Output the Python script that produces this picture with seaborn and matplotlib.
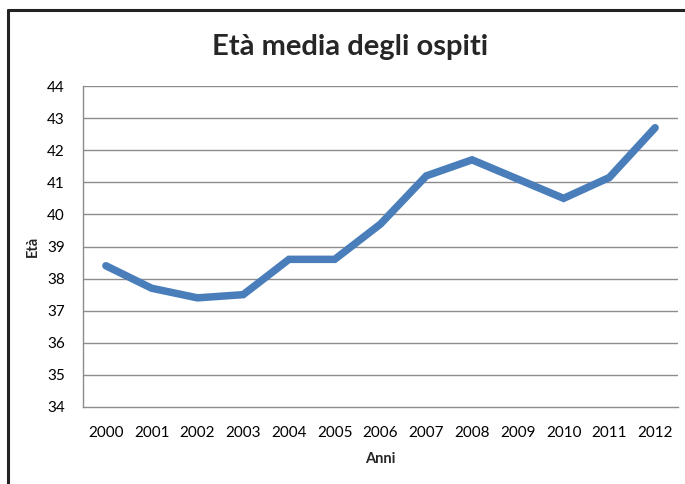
import numpy as np
import pandas as pd
import matplotlib
matplotlib.use("Agg")
import matplotlib.pyplot as plt
import seaborn as sns
from matplotlib.lines import Line2D

years = ["2000", "2001", "2002", "2003", "2004", "2005", "2006",
         "2007", "2008", "2009", "2010", "2011", "2012"]
ages = [38.4, 37.7, 37.4, 37.5, 38.6, 38.6, 39.7, 41.2, 41.7, 41.1, 40.5, 41.15, 42.7]
y_ticks = [34, 35, 36, 37, 38, 39, 40, 41, 42, 43, 44]

title = "Età media degli ospiti"
xlabel = "Anni"
ylabel = "Età"

sns.set_style("white")
plt.rcParams["font.family"] = ["Lato", "DejaVu Sans"]

df = pd.DataFrame({"pos": np.arange(len(years)), "age": ages})

fig = plt.figure(figsize=(6.85, 4.84), dpi=100)
ax = fig.add_axes([83/685, 1-407/484, (678-83)/685, (407-86)/484])

for v in y_ticks[1:]:
    ax.axhline(v, color="#8c8c8c", lw=1.0, zorder=1)

sns.lineplot(data=df, x="pos", y="age", ax=ax, color="#4A7EBB", lw=5.4,
             solid_capstyle="round", solid_joinstyle="miter", zorder=3)

ax.set_xlim(-0.5, len(years) - 0.5)
ax.set_ylim(y_ticks[0], y_ticks[-1])
ax.set_yticks(y_ticks)
ax.set_yticklabels([str(v) for v in y_ticks], fontsize=11)
ax.set_xticks(np.arange(len(years)))
ax.set_xticklabels(years, fontsize=11)
ax.set_xticks(np.arange(len(years) + 1) - 0.5, minor=True)
ax.tick_params(axis="x", which="major", length=0, pad=14)
ax.tick_params(axis="x", which="minor", length=5, color="#8c8c8c", width=1, direction="out")
ax.tick_params(axis="y", length=5, color="#8c8c8c", width=1, direction="out", pad=8)
ax.tick_params(axis="both", colors="#8c8c8c", labelcolor="black")
for s in ["top", "right"]:
    ax.spines[s].set_visible(False)
for s in ["left", "bottom"]:
    ax.spines[s].set_color("#8c8c8c")
    ax.spines[s].set_linewidth(1.0)

ax.set_xlabel(xlabel, fontsize=10.5, fontweight="bold", labelpad=8)
ax.set_ylabel(ylabel, fontsize=10.5, fontweight="bold", labelpad=5)

fig.text(350/685, 1-47/484, title, fontsize=21, fontweight="bold",
         ha="center", va="center")

# chart border (left and top edges)
fig.add_artist(Line2D([8/685, 8/685], [0, 1-10/484], transform=fig.transFigure,
                      color="#222222", lw=2.2))
fig.add_artist(Line2D([8/685, 1], [1-10/484, 1-10/484], transform=fig.transFigure,
                      color="#222222", lw=2.2))

fig.savefig("out.png", dpi=100)
